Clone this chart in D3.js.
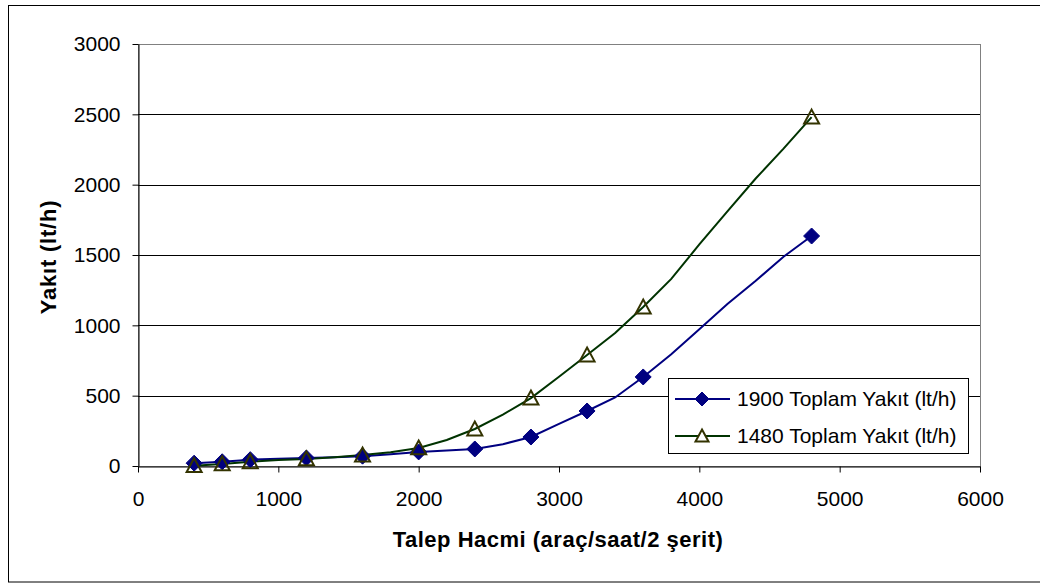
<!DOCTYPE html>
<html>
<head>
<meta charset="utf-8">
<script src="https://cdn.jsdelivr.net/npm/d3@7"></script>
<style>
  html, body { margin: 0; padding: 0; background: #fff; }
  svg { display: block; font-family: Arial, "Liberation Sans", sans-serif; }
</style>
</head>
<body>
<svg id="chart" width="1040" height="584"></svg>
<script>
// Demand volumes with measured points (markers)
const demand = [400, 600, 800, 1200, 1600, 2000, 2400, 2800, 3200, 3600, 4800];
const fuel1900 = [20, 30, 45, 57, 70, 100, 121, 206, 391, 633, 1635];
const fuel1480 = [2, 15, 30, 50, 78, 128, 263, 483, 789, 1130, 2480];

// Full curve vertices for each series
const curveDemand = [400, 600, 800, 1000, 1200, 1400, 1600, 1800, 2000, 2200, 2400, 2600,
                     2800, 3000, 3200, 3400, 3600, 3800, 4000, 4200, 4400, 4600, 4800];
const curve1900 = [20, 30, 45, 52, 57, 63, 70, 83, 100, 110, 121, 155,
                   206, 300, 391, 487, 633, 795, 972, 1152, 1315, 1488, 1635];
const curve1480 = [2, 15, 30, 42, 50, 62, 78, 98, 128, 185, 263, 365,
                   483, 635, 789, 945, 1130, 1330, 1575, 1810, 2042, 2256, 2480];

const xTicks = [0, 1000, 2000, 3000, 4000, 5000, 6000];
const yTicks = [0, 500, 1000, 1500, 2000, 2500, 3000];
const seriesNames = ["1900 Toplam Yakıt (lt/h)", "1480 Toplam Yakıt (lt/h)"];

const svg = d3.select("#chart");
const plotLeft = 138, plotRight = 980, plotTop = 44, plotBottom = 466;

const x = d3.scaleLinear().domain([0, 6000]).range([plotLeft, plotRight]);
const y = d3.scaleLinear().domain([0, 3000]).range([plotBottom, plotTop]);

// outer chart frame
svg.append("rect")
  .attr("x", 8.5).attr("y", 5.5).attr("width", 1040).attr("height", 576.5)
  .attr("fill", "#fff").attr("stroke", "#000").attr("stroke-width", 1);

// plot area frame
svg.append("rect")
  .attr("x", plotLeft + 0.5).attr("y", plotTop + 0.5)
  .attr("width", plotRight - plotLeft).attr("height", plotBottom - plotTop)
  .attr("fill", "#fff").attr("stroke", "#808080").attr("stroke-width", 1);

// horizontal gridlines
svg.append("g").selectAll("line")
  .data(yTicks.filter(v => v > 0 && v < 3000))
  .join("line")
  .attr("x1", plotLeft).attr("x2", plotRight)
  .attr("y1", d => Math.round(y(d)) + 0.5).attr("y2", d => Math.round(y(d)) + 0.5)
  .attr("stroke", "#000").attr("stroke-width", 1);

// axes
const yAxis = svg.append("g")
  .attr("transform", `translate(${plotLeft + 0.5},0)`)
  .call(d3.axisLeft(y).tickValues(yTicks).tickFormat(d3.format("d"))
    .tickSize(6).tickPadding(12).tickSizeOuter(0));
const xAxis = svg.append("g")
  .attr("transform", `translate(0,${plotBottom + 0.5})`)
  .call(d3.axisBottom(x).tickValues(xTicks).tickFormat(d3.format("d"))
    .tickSize(6).tickPadding(19).tickSizeOuter(0));
[yAxis, xAxis].forEach(g => {
  g.select(".domain").attr("stroke", "#000");
  g.selectAll(".tick line").attr("stroke", "#000");
  g.selectAll(".tick text").attr("fill", "#000")
    .style("font-size", "21px").style("font-family", "Arial, 'Liberation Sans', sans-serif");
});

// axis titles
svg.append("text")
  .attr("x", 558).attr("y", 547)
  .attr("text-anchor", "middle")
  .style("font-size", "22px").style("font-weight", "bold")
  .style("letter-spacing", "0.5px")
  .text("Talep Hacmi (araç/saat/2 şerit)");
svg.append("text")
  .attr("transform", "translate(56,257) rotate(-90)")
  .attr("text-anchor", "middle")
  .style("font-size", "22px").style("font-weight", "bold")
  .style("letter-spacing", "0.8px")
  .text("Yakıt (lt/h)");

// series lines
const line = d3.line().x(d => x(d[0])).y(d => y(d[1]));
const blueColor = "#000080", greenColor = "#003300", triColor = "#333300";

svg.append("path")
  .datum(curveDemand.map((d, i) => [d, curve1900[i]]))
  .attr("d", line).attr("fill", "none")
  .attr("stroke", blueColor).attr("stroke-width", 2);
svg.append("path")
  .datum(curveDemand.map((d, i) => [d, curve1480[i]]))
  .attr("d", line).attr("fill", "none")
  .attr("stroke", greenColor).attr("stroke-width", 2);

// markers
const diamond = (cx, cy, r) => `M${cx},${cy - r}L${cx + r},${cy}L${cx},${cy + r}L${cx - r},${cy}Z`;
const triangle = (cx, cy, r) => `M${cx},${cy - r}L${cx + r},${cy + r * 0.85}L${cx - r},${cy + r * 0.85}Z`;

svg.append("g").selectAll("path")
  .data(demand.map((d, i) => [d, fuel1900[i]]))
  .join("path")
  .attr("d", d => diamond(x(d[0]), y(d[1]), 8))
  .attr("fill", blueColor).attr("stroke", blueColor).attr("stroke-width", 1);

svg.append("g").selectAll("path")
  .data(demand.map((d, i) => [d, fuel1480[i]]))
  .join("path")
  .attr("d", d => triangle(x(d[0]), y(d[1]), 7.5))
  .attr("fill", "none").attr("stroke", triColor).attr("stroke-width", 2);

// legend
const lg = svg.append("g");
lg.append("rect")
  .attr("x", 668.5).attr("y", 378.5).attr("width", 300).attr("height", 75)
  .attr("fill", "#fff").attr("stroke", "#000").attr("stroke-width", 1);
const rows = [
  { name: seriesNames[0], color: blueColor, mark: "diamond", cy: 399 },
  { name: seriesNames[1], color: greenColor, mark: "triangle", cy: 436 }
];
rows.forEach(r => {
  lg.append("line")
    .attr("x1", 675).attr("x2", 730).attr("y1", r.cy).attr("y2", r.cy)
    .attr("stroke", r.color).attr("stroke-width", 2);
  if (r.mark === "diamond") {
    lg.append("path").attr("d", diamond(702, r.cy, 7))
      .attr("fill", blueColor).attr("stroke", blueColor);
  } else {
    lg.append("path").attr("d", triangle(702, r.cy, 6.5))
      .attr("fill", "#fff").attr("stroke", triColor).attr("stroke-width", 2);
  }
  lg.append("text")
    .attr("x", 737).attr("y", r.cy).attr("dy", "0.35em")
    .style("font-size", "21px")
    .text(r.name);
});
</script>
</body>
</html>
